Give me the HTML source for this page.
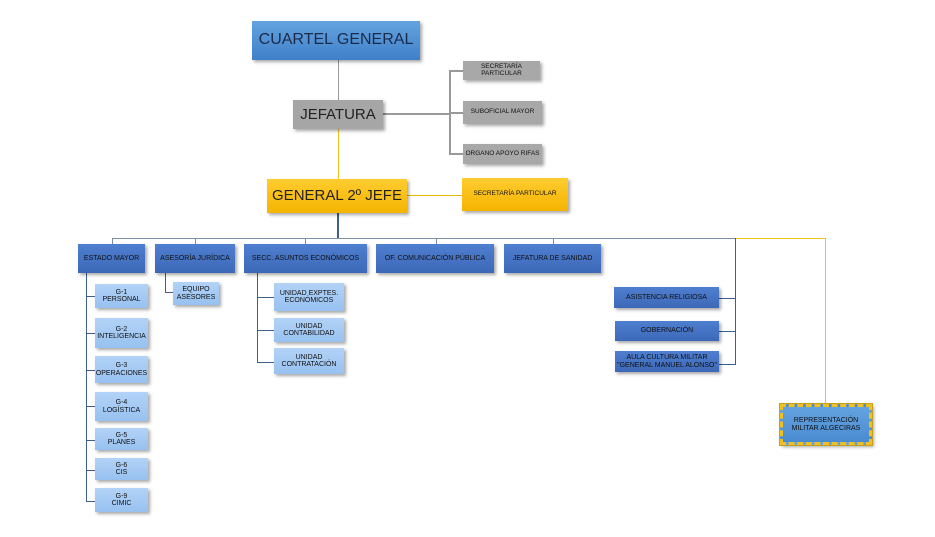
<!DOCTYPE html>
<html><head><meta charset="utf-8"><style>
body{margin:0;width:935px;height:537px;background:#fff;position:relative;overflow:hidden;font-family:"Liberation Sans",sans-serif}
.b{position:absolute;display:flex;align-items:center;justify-content:center;text-align:center;box-sizing:border-box;color:#111;line-height:1.05;box-shadow:2px 2px 3px rgba(0,0,0,.35)}
.l{position:absolute}
.dk{background:linear-gradient(#4f7fd0,#3d68b8);font-size:7px}
.lt{background:linear-gradient(#b3d3f7,#97c1f0);font-size:7px}
.gr{background:#a8a8a8;font-size:6.5px}
.h{background:#3d5f8a}
.v{background:#3d5f8a}
</style></head><body>
<!-- lines -->
<div class="l" style="left:338px;top:60px;width:1px;height:40px;background:#999"></div>
<div class="l" style="left:338px;top:129px;width:1px;height:50px;background:#f0c020"></div>
<div class="l" style="left:383px;top:113px;width:66px;height:2px;background:#999"></div>
<div class="l" style="left:449px;top:70px;width:2px;height:85px;background:#999"></div>
<div class="l" style="left:449px;top:70px;width:14px;height:2px;background:#999"></div>
<div class="l" style="left:449px;top:112px;width:14px;height:2px;background:#999"></div>
<div class="l" style="left:449px;top:153px;width:14px;height:2px;background:#999"></div>
<div class="l" style="left:407px;top:195px;width:55px;height:1px;background:#e8b800"></div>
<div class="l v" style="left:337px;top:213px;width:2px;height:25px"></div>
<div class="l h" style="left:112px;top:238px;width:624px;height:1px;background:#7890a8"></div>
<div class="l" style="left:736px;top:238px;width:89px;height:1px;background:#f0c020"></div>
<div class="l" style="left:825px;top:238px;width:1px;height:166px;background:#f0c020"></div>
<div class="l" style="left:112px;top:238px;width:1px;height:6px;background:#7890a8"></div>
<div class="l" style="left:195px;top:238px;width:1px;height:6px;background:#7890a8"></div>
<div class="l" style="left:305px;top:238px;width:1px;height:6px;background:#7890a8"></div>
<div class="l" style="left:436px;top:238px;width:1px;height:6px;background:#7890a8"></div>
<div class="l" style="left:553px;top:238px;width:1px;height:6px;background:#7890a8"></div>
<div class="l v" style="left:86px;top:273px;width:1px;height:229px"></div>
<div class="l v" style="left:86px;top:296px;width:9px;height:1px"></div>
<div class="l v" style="left:86px;top:333px;width:9px;height:1px"></div>
<div class="l v" style="left:86px;top:370px;width:9px;height:1px"></div>
<div class="l v" style="left:86px;top:406px;width:9px;height:1px"></div>
<div class="l v" style="left:86px;top:440px;width:9px;height:1px"></div>
<div class="l v" style="left:86px;top:470px;width:9px;height:1px"></div>
<div class="l v" style="left:86px;top:501px;width:9px;height:1px"></div>
<div class="l v" style="left:165px;top:273px;width:1px;height:19px"></div>
<div class="l v" style="left:165px;top:292px;width:8px;height:1px"></div>
<div class="l v" style="left:257px;top:273px;width:1px;height:90px"></div>
<div class="l v" style="left:257px;top:297px;width:17px;height:1px"></div>
<div class="l v" style="left:257px;top:330px;width:17px;height:1px"></div>
<div class="l v" style="left:257px;top:362px;width:17px;height:1px"></div>
<div class="l v" style="left:735px;top:238px;width:1px;height:127px"></div>
<div class="l v" style="left:719px;top:298px;width:16px;height:1px"></div>
<div class="l v" style="left:719px;top:331px;width:16px;height:1px"></div>
<div class="l v" style="left:719px;top:364px;width:16px;height:1px"></div>
<!-- top -->
<div class="b" style="left:252px;top:21px;width:168px;height:39px;background:linear-gradient(#64a3e0,#3f80c8);font-size:16px;color:#1a2b4a">CUARTEL GENERAL</div>
<div class="b" style="left:293px;top:100px;width:90px;height:29px;background:#a6a6a6;font-size:15px;color:#222">JEFATURA</div>
<div class="b" style="left:267px;top:179px;width:140px;height:34px;background:linear-gradient(#ffcc30,#f5b400);font-size:15px;color:#222">GENERAL 2º JEFE</div>
<div class="b gr" style="left:463px;top:61px;width:77px;height:19px">SECRETARÍA<br>PARTICULAR</div>
<div class="b gr" style="left:463px;top:101px;width:79px;height:23px">SUBOFICIAL MAYOR</div>
<div class="b gr" style="left:463px;top:144px;width:79px;height:20px">ORGANO APOYO RIFAS</div>
<div class="b" style="left:462px;top:178px;width:106px;height:33px;background:linear-gradient(#ffcc30,#f5b400);font-size:6.5px">SECRETARÍA PARTICULAR</div>
<!-- row -->
<div class="b dk" style="left:78px;top:244px;width:67px;height:29px">ESTADO MAYOR</div>
<div class="b dk" style="left:155px;top:244px;width:80px;height:29px">ASESORÍA JURÍDICA</div>
<div class="b dk" style="left:244px;top:244px;width:123px;height:29px">SECC. ASUNTOS ECONÓMICOS</div>
<div class="b dk" style="left:376px;top:244px;width:118px;height:29px">OF. COMUNICACIÓN PÚBLICA</div>
<div class="b dk" style="left:504px;top:244px;width:97px;height:29px">JEFATURA DE SANIDAD</div>
<!-- G -->
<div class="b lt" style="left:95px;top:284px;width:53px;height:24px">G-1<br>PERSONAL</div>
<div class="b lt" style="left:95px;top:318px;width:53px;height:30px">G-2<br>INTELIGENCIA</div>
<div class="b lt" style="left:95px;top:356px;width:53px;height:27px">G-3<br>OPERACIONES</div>
<div class="b lt" style="left:95px;top:392px;width:53px;height:29px">G-4<br>LOGÍSTICA</div>
<div class="b lt" style="left:95px;top:428px;width:53px;height:22px">G-5<br>PLANES</div>
<div class="b lt" style="left:95px;top:458px;width:53px;height:22px">G-6<br>CIS</div>
<div class="b lt" style="left:95px;top:488px;width:53px;height:24px">G-9<br>CIMIC</div>
<div class="b lt" style="left:173px;top:282px;width:46px;height:23px">EQUIPO<br>ASESORES</div>
<div class="b lt" style="left:274px;top:283px;width:70px;height:28px">UNIDAD EXPTES.<br>ECONÓMICOS</div>
<div class="b lt" style="left:274px;top:318px;width:70px;height:24px">UNIDAD<br>CONTABILIDAD</div>
<div class="b lt" style="left:274px;top:348px;width:70px;height:26px">UNIDAD<br>CONTRATACIÓN</div>
<div class="b dk" style="left:614px;top:287px;width:105px;height:21px">ASISTENCIA RELIGIOSA</div>
<div class="b dk" style="left:615px;top:321px;width:104px;height:20px">GOBERNACIÓN</div>
<div class="b dk" style="left:615px;top:351px;width:104px;height:21px">AULA CULTURA MILITAR<br>"GENERAL MANUEL ALONSO"</div>
<div class="b" style="left:780px;top:404px;width:92px;height:41px;background:linear-gradient(#64a3e0,#4a8ad0);border:3px dashed #f0c020;outline:1px solid #c8a020;font-size:7px">REPRESENTACIÓN<br>MILITAR ALGECIRAS</div>
</body></html>
